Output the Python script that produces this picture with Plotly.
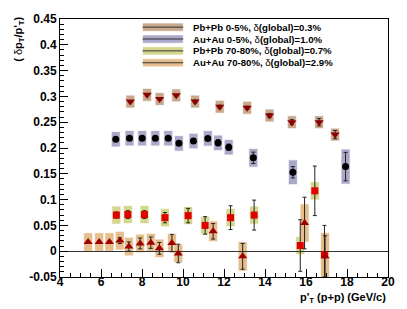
import plotly.graph_objects as go

# ---------------- data ----------------
pbpb0_x = [7.43, 8.25, 8.86, 9.67, 10.59, 11.79, 13.13, 14.22, 15.31, 16.64, 17.42]
pbpb0_y = [0.290, 0.303, 0.295, 0.302, 0.290, 0.280, 0.278, 0.263, 0.250, 0.250, 0.226]
pbpb0_stat = [0.002, 0.002, 0.002, 0.002, 0.003, 0.003, 0.003, 0.004, 0.005, 0.007, 0.008]
pbpb0_sys = [0.0125] * 11

auau0_x = [6.72, 7.39, 8.01, 8.65, 9.28, 9.80, 10.51, 11.21, 11.71, 12.23, 13.43, 15.36, 17.93]
auau0_y = [0.217, 0.219, 0.219, 0.219, 0.219, 0.209, 0.2135, 0.2186, 0.210, 0.2015, 0.181, 0.153, 0.164]
auau0_stat = [0.002, 0.002, 0.002, 0.002, 0.003, 0.003, 0.004, 0.004, 0.006, 0.006, 0.011, 0.011, 0.0275]
auau0_sys = [0.015] * 10 + [0.018, 0.024, 0.034]

pbpb70_x = [6.75, 7.31, 8.12, 9.12, 10.25, 11.08, 12.32, 13.47, 15.72, 16.43, 16.90]
pbpb70_y = [0.070, 0.071, 0.071, 0.065, 0.069, 0.050, 0.065, 0.070, 0.011, 0.117, -0.007]
pbpb70_stat = [0.006, 0.0075, 0.0075, 0.010, 0.014, 0.017, 0.023, 0.029, 0.050, 0.048, 0.057]
pbpb70_sys = [0.0175] * 11

auau70_x = [5.37, 5.91, 6.41, 6.92, 7.36, 7.91, 8.43, 8.85, 9.46, 9.77, 11.47, 12.91, 15.93, 16.93]
auau70_y = [0.0177, 0.0177, 0.0177, 0.0205, 0.009, 0.015, 0.0165, 0.0055, 0.0158, -0.0044,
            0.0386, -0.010, 0.0546, -0.010]
auau70_stat = [0.002, 0.002, 0.002, 0.0057, 0.009, 0.0105, 0.011, 0.0114, 0.0168, 0.018,
               0.015, 0.025, 0.050, 0.040]
auau70_sys = [0.018] * 10 + [0.020, 0.0285, 0.037, 0.046]

legend_labels = [
    "<b>Pb+Pb 0-5%, </b>δ<b>(global)=0.3%</b>",
    "<b>Au+Au 0-5%, </b>δ<b>(global)=1.0%</b>",
    "<b>Pb+Pb 70-80%, </b>δ<b>(global)=0.7%</b>",
    "<b>Au+Au 70-80%, </b>δ<b>(global)=2.9%</b>",
]

x_tickvals = [4, 6, 8, 10, 12, 14, 16, 18, 20]
x_ticktext = ["4", "6", "8", "10", "12", "14", "16", "18", "20"]
y_tickvals = [-0.05, 0, 0.05, 0.1, 0.15, 0.2, 0.25, 0.3, 0.35, 0.4, 0.45]
y_ticktext = ["-0.05", "0", "0.05", "0.1", "0.15", "0.2", "0.25", "0.3", "0.35", "0.4", "0.45"]

# ---------------- styling ----------------
FONT = "Liberation Sans, Arial, Helvetica, sans-serif"
series = [
    dict(x=pbpb0_x, y=pbpb0_y, stat=pbpb0_stat, sys=pbpb0_sys, box="#C8A88D",
         symbol="triangle-down", color="#8B0000", size=8),
    dict(x=auau0_x, y=auau0_y, stat=auau0_stat, sys=auau0_sys, box="#ABA9C9",
         symbol="circle", color="#000000", size=7),
    dict(x=pbpb70_x, y=pbpb70_y, stat=pbpb70_stat, sys=pbpb70_sys, box="#D5D68C",
         symbol="square", color="#E00000", size=7),
    dict(x=auau70_x, y=auau70_y, stat=auau70_stat, sys=auau70_sys, box="#E6BD8C",
         symbol="triangle-up", color="#A00000", size=8),
]
HALF_W = 0.22

fig = go.Figure()
shapes = []

# systematic boxes
for s in series:
    for xv, yv, sv in zip(s["x"], s["y"], s["sys"]):
        shapes.append(dict(type="rect", xref="x", yref="y", layer="below",
                           x0=xv - HALF_W, x1=xv + HALF_W, y0=yv - sv, y1=yv + sv,
                           fillcolor=s["box"], line=dict(color="rgba(255,255,255,0.7)", width=1)))

# points with stat errors
for s in series:
    fig.add_trace(go.Scatter(
        x=s["x"], y=s["y"], mode="markers", showlegend=False,
        marker=dict(symbol=s["symbol"], color=s["color"], size=s["size"], line=dict(width=0)),
        error_y=dict(type="data", array=s["stat"], color="#222222", thickness=1, width=2),
        xaxis="x", yaxis="y",
    ))

# ---------------- legend (pixel coordinate overlay axis) ----------------
leg_rows = [22.3, 34.4, 46.5, 58.6]
leg_x0, leg_x1, leg_xm, leg_tx = 143, 184, 163, 192
for s, ry, lab in zip(series, leg_rows, legend_labels):
    shapes.append(dict(type="rect", xref="x2", yref="y2", x0=leg_x0, x1=leg_x1,
                       y0=ry - 4.2, y1=ry + 4.2, fillcolor=s["box"],
                       line=dict(color="rgba(255,255,255,0.7)", width=1)))
    shapes.append(dict(type="line", xref="x2", yref="y2", x0=leg_x0, x1=leg_x1,
                       y0=ry, y1=ry, line=dict(color="#333333", width=1)))
    fig.add_trace(go.Scatter(x=[leg_xm], y=[ry], mode="markers", showlegend=False,
                             marker=dict(symbol=s["symbol"], color=s["color"], size=s["size"] - 1),
                             xaxis="x2", yaxis="y2", hoverinfo="skip", cliponaxis=False))

annotations = []
for ry, lab in zip(leg_rows, legend_labels):
    annotations.append(dict(xref="x2", yref="y2", x=leg_tx, y=ry, text=lab, showarrow=False,
                            xanchor="left", yanchor="middle",
                            font=dict(family=FONT, size=9.6, color="black")))

# axis titles (paper coordinates: plot area spans px 60..390, py 14..277)
def px_to_paper(px, py):
    return (px - 60) / 330.0, (277 - py) / 263.0

tx, ty = px_to_paper(390, 298)
annotations.append(dict(xref="paper", yref="paper", x=tx, y=ty,
                        text="<b>p'<sub>T</sub> (p+p) (GeV/c)</b>", showarrow=False,
                        xanchor="right", yanchor="middle",
                        font=dict(family=FONT, size=11, color="black")))
tx, ty = px_to_paper(18, 35)
annotations.append(dict(xref="paper", yref="paper", x=tx, y=ty,
                        text="<b>( </b>δ<b>p<sub>T</sub>/p'<sub>T</sub>)</b>", showarrow=False,
                        textangle=-90, xanchor="center", yanchor="middle",
                        font=dict(family=FONT, size=11, color="black")))

fig.update_layout(
    width=407, height=309,
    margin=dict(l=60, r=17, t=14, b=32),
    paper_bgcolor="white", plot_bgcolor="white",
    shapes=shapes, annotations=annotations,
    xaxis=dict(range=[4, 20], showgrid=False, zeroline=False,
               showline=True, linecolor="black", linewidth=1, mirror=True,
               ticks="inside", ticklen=8, tickcolor="black", tickwidth=1,
               tickvals=x_tickvals, ticktext=x_ticktext, ticklabelstandoff=-6,
               tickfont=dict(family=FONT, size=12, color="black", weight="bold"),
               minor=dict(dtick=0.5, ticks="inside", ticklen=4, tickcolor="black", tickwidth=1)),
    yaxis=dict(range=[-0.05, 0.45], showgrid=False,
               zeroline=True, zerolinecolor="#333333", zerolinewidth=1,
               showline=True, linecolor="black", linewidth=1, mirror=True,
               ticks="inside", ticklen=8, tickcolor="black", tickwidth=1,
               tickvals=y_tickvals, ticktext=y_ticktext,
               tickfont=dict(family=FONT, size=12, color="black", weight="bold"),
               minor=dict(dtick=0.01, ticks="inside", ticklen=4, tickcolor="black", tickwidth=1)),
    xaxis2=dict(range=[60, 390], overlaying="x", visible=False, fixedrange=True),
    yaxis2=dict(range=[277, 14], overlaying="y", visible=False, fixedrange=True),
)

fig.write_html("out.html", config={"displayModeBar": False},
               post_script="document.body.style.margin='0';document.body.style.overflow='hidden';")
